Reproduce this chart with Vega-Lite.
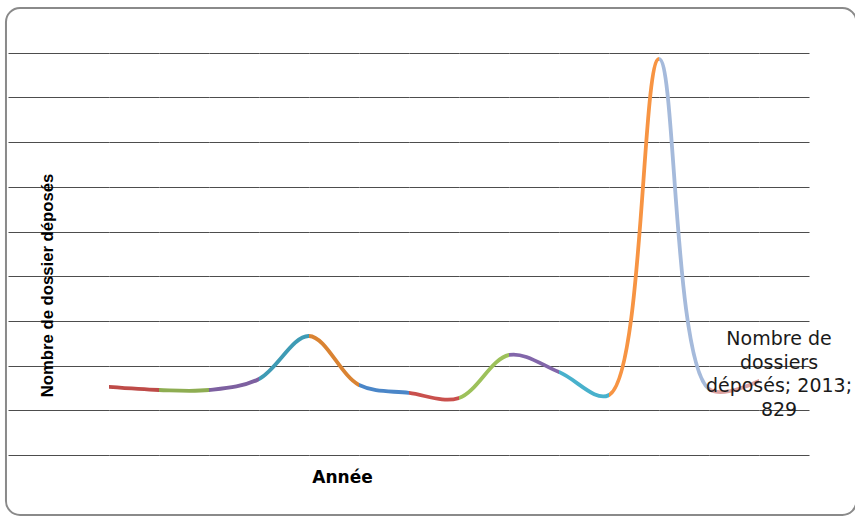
{
  "$schema": "https://vega.github.io/schema/vega-lite/v6.json",
  "padding": {"left": 4, "top": 7, "right": 0, "bottom": 0},
  "background": "white",
  "bounds": "flush",
  "spacing": 0,
  "data": {"values": [
    {"year": 2000, "value": 761},
    {"year": 2001, "value": 727},
    {"year": 2002, "value": 727},
    {"year": 2003, "value": 850},
    {"year": 2004, "value": 1331},
    {"year": 2005, "value": 783},
    {"year": 2006, "value": 694},
    {"year": 2007, "value": 638},
    {"year": 2008, "value": 1119},
    {"year": 2009, "value": 928},
    {"year": 2010, "value": 671},
    {"year": 2011, "value": 4430},
    {"year": 2012, "value": 738},
    {"year": 2013, "value": 829}
  ]},
  "config": {
    "view": {"stroke": null},
    "axis": {"labels": false, "ticks": false, "domain": false, "grid": true, "gridColor": "#4d4d4d", "gridWidth": 1, "gridOpacity": 1},
    "line": {"interpolate": "catmull-rom", "tension": 0.5, "strokeWidth": 3.8, "strokeCap": "round"}
  },
  "hconcat": [
    {
      "width": 101, "height": 447,
      "data": {"values": [{}]},
      "mark": {"type": "rect", "fill": "transparent", "stroke": "#8a8a8a", "strokeWidth": 2, "cornerRadius": 14},
      "encoding": {
        "x": {"datum": 1997.96, "type": "quantitative", "scale": {"domain": [1998, 2000], "nice": false, "zero": false},
              "axis": {"title": "Année", "grid": false, "titleX": 334, "titleY": 27, "titleBaseline": "alphabetic", "titleAlign": "center", "titleFont": "DejaVu Sans", "titleFontSize": 17, "titleFontWeight": "bold", "titleColor": "#000000"}},
        "x2": {"datum": 2014.8},
        "y": {"datum": -671, "type": "quantitative", "scale": {"domain": [0, 5000], "nice": false, "zero": false},
              "axis": {"title": "Nombre de dossier déposés", "values": [0, 500, 1000, 1500, 2000, 2500, 3000, 3500, 4000, 4500], "titleX": 44, "titleY": 277, "titleAngle": 270, "titleAlign": "center", "titleBaseline": "alphabetic", "titleFont": "Liberation Sans", "titleFontSize": 16.7, "titleFontWeight": "bold", "titleColor": "#000000"}},
        "y2": {"datum": 5000}
      }
    },
    {"width": 50, "height": 447, "transform": [{"filter": "datum.year >= 1999 && datum.year <= 2002"}],
     "mark": {"type": "line", "stroke": "#BE4B48", "clip": true},
     "encoding": {"x": {"field": "year", "type": "quantitative", "scale": {"domain": [2000, 2001], "nice": false, "zero": false}, "axis": null},
                  "y": {"field": "value", "type": "quantitative", "scale": {"domain": [0, 5000], "nice": false}, "axis": {"title": null, "values": [0, 500, 1000, 1500, 2000, 2500, 3000, 3500, 4000, 4500]}}}},
    {"width": 50, "height": 447, "transform": [{"filter": "datum.year >= 2000 && datum.year <= 2003"}],
     "mark": {"type": "line", "stroke": "#8EAD52", "clip": true},
     "encoding": {"x": {"field": "year", "type": "quantitative", "scale": {"domain": [2001, 2002], "nice": false, "zero": false}, "axis": null},
                  "y": {"field": "value", "type": "quantitative", "scale": {"domain": [0, 5000], "nice": false}, "axis": {"title": null, "values": [0, 500, 1000, 1500, 2000, 2500, 3000, 3500, 4000, 4500]}}}},
    {"width": 50, "height": 447, "transform": [{"filter": "datum.year >= 2001 && datum.year <= 2004"}],
     "mark": {"type": "line", "stroke": "#7D60A0", "clip": true},
     "encoding": {"x": {"field": "year", "type": "quantitative", "scale": {"domain": [2002, 2003], "nice": false, "zero": false}, "axis": null},
                  "y": {"field": "value", "type": "quantitative", "scale": {"domain": [0, 5000], "nice": false}, "axis": {"title": null, "values": [0, 500, 1000, 1500, 2000, 2500, 3000, 3500, 4000, 4500]}}}},
    {"width": 50, "height": 447, "transform": [{"filter": "datum.year >= 2002 && datum.year <= 2005"}],
     "mark": {"type": "line", "stroke": "#3E9BB5", "clip": true},
     "encoding": {"x": {"field": "year", "type": "quantitative", "scale": {"domain": [2003, 2004], "nice": false, "zero": false}, "axis": null},
                  "y": {"field": "value", "type": "quantitative", "scale": {"domain": [0, 5000], "nice": false}, "axis": {"title": null, "values": [0, 500, 1000, 1500, 2000, 2500, 3000, 3500, 4000, 4500]}}}},
    {"width": 50, "height": 447, "transform": [{"filter": "datum.year >= 2003 && datum.year <= 2006"}],
     "mark": {"type": "line", "stroke": "#DA8332", "clip": true},
     "encoding": {"x": {"field": "year", "type": "quantitative", "scale": {"domain": [2004, 2005], "nice": false, "zero": false}, "axis": null},
                  "y": {"field": "value", "type": "quantitative", "scale": {"domain": [0, 5000], "nice": false}, "axis": {"title": null, "values": [0, 500, 1000, 1500, 2000, 2500, 3000, 3500, 4000, 4500]}}}},
    {"width": 50, "height": 447, "transform": [{"filter": "datum.year >= 2004 && datum.year <= 2007"}],
     "mark": {"type": "line", "stroke": "#4A86C8", "clip": true},
     "encoding": {"x": {"field": "year", "type": "quantitative", "scale": {"domain": [2005, 2006], "nice": false, "zero": false}, "axis": null},
                  "y": {"field": "value", "type": "quantitative", "scale": {"domain": [0, 5000], "nice": false}, "axis": {"title": null, "values": [0, 500, 1000, 1500, 2000, 2500, 3000, 3500, 4000, 4500]}}}},
    {"width": 50, "height": 447, "transform": [{"filter": "datum.year >= 2005 && datum.year <= 2008"}],
     "mark": {"type": "line", "stroke": "#C9504D", "clip": true},
     "encoding": {"x": {"field": "year", "type": "quantitative", "scale": {"domain": [2006, 2007], "nice": false, "zero": false}, "axis": null},
                  "y": {"field": "value", "type": "quantitative", "scale": {"domain": [0, 5000], "nice": false}, "axis": {"title": null, "values": [0, 500, 1000, 1500, 2000, 2500, 3000, 3500, 4000, 4500]}}}},
    {"width": 50, "height": 447, "transform": [{"filter": "datum.year >= 2006 && datum.year <= 2009"}],
     "mark": {"type": "line", "stroke": "#9DC15B", "clip": true},
     "encoding": {"x": {"field": "year", "type": "quantitative", "scale": {"domain": [2007, 2008], "nice": false, "zero": false}, "axis": null},
                  "y": {"field": "value", "type": "quantitative", "scale": {"domain": [0, 5000], "nice": false}, "axis": {"title": null, "values": [0, 500, 1000, 1500, 2000, 2500, 3000, 3500, 4000, 4500]}}}},
    {"width": 50, "height": 447, "transform": [{"filter": "datum.year >= 2007 && datum.year <= 2010"}],
     "mark": {"type": "line", "stroke": "#8266AA", "clip": true},
     "encoding": {"x": {"field": "year", "type": "quantitative", "scale": {"domain": [2008, 2009], "nice": false, "zero": false}, "axis": null},
                  "y": {"field": "value", "type": "quantitative", "scale": {"domain": [0, 5000], "nice": false}, "axis": {"title": null, "values": [0, 500, 1000, 1500, 2000, 2500, 3000, 3500, 4000, 4500]}}}},
    {"width": 50, "height": 447, "transform": [{"filter": "datum.year >= 2008 && datum.year <= 2011"}],
     "mark": {"type": "line", "stroke": "#48B1CC", "clip": true},
     "encoding": {"x": {"field": "year", "type": "quantitative", "scale": {"domain": [2009, 2010], "nice": false, "zero": false}, "axis": null},
                  "y": {"field": "value", "type": "quantitative", "scale": {"domain": [0, 5000], "nice": false}, "axis": {"title": null, "values": [0, 500, 1000, 1500, 2000, 2500, 3000, 3500, 4000, 4500]}}}},
    {"width": 50, "height": 447, "transform": [{"filter": "datum.year >= 2009 && datum.year <= 2012"}],
     "mark": {"type": "line", "stroke": "#F79443", "clip": true},
     "encoding": {"x": {"field": "year", "type": "quantitative", "scale": {"domain": [2010, 2011], "nice": false, "zero": false}, "axis": null},
                  "y": {"field": "value", "type": "quantitative", "scale": {"domain": [0, 5000], "nice": false}, "axis": {"title": null, "values": [0, 500, 1000, 1500, 2000, 2500, 3000, 3500, 4000, 4500]}}}},
    {"width": 50, "height": 447, "transform": [{"filter": "datum.year >= 2010 && datum.year <= 2013"}],
     "mark": {"type": "line", "stroke": "#A5BADB", "clip": true},
     "encoding": {"x": {"field": "year", "type": "quantitative", "scale": {"domain": [2011, 2012], "nice": false, "zero": false}, "axis": null},
                  "y": {"field": "value", "type": "quantitative", "scale": {"domain": [0, 5000], "nice": false}, "axis": {"title": null, "values": [0, 500, 1000, 1500, 2000, 2500, 3000, 3500, 4000, 4500]}}}},
    {"width": 50, "height": 447, "transform": [{"filter": "datum.year >= 2011 && datum.year <= 2013"}],
     "mark": {"type": "line", "stroke": "#DBA1A0", "clip": true},
     "encoding": {"x": {"field": "year", "type": "quantitative", "scale": {"domain": [2012, 2013], "nice": false, "zero": false}, "axis": null},
                  "y": {"field": "value", "type": "quantitative", "scale": {"domain": [0, 5000], "nice": false}, "axis": {"title": null, "values": [0, 500, 1000, 1500, 2000, 2500, 3000, 3500, 4000, 4500]}}}},
    {"width": 50, "height": 447, "transform": [{"filter": "datum.year == 2013"}],
     "mark": {"type": "text", "dx": 20, "dy": -42, "align": "center", "baseline": "middle", "lineHeight": 23.7, "font": "DejaVu Sans", "fontSize": 19, "fill": "#1a1a1a"},
     "encoding": {"x": {"field": "year", "type": "quantitative", "scale": {"domain": [2013, 2014], "nice": false, "zero": false}, "axis": null},
                  "y": {"field": "value", "type": "quantitative", "scale": {"domain": [0, 5000], "nice": false}, "axis": {"title": null, "values": [0, 500, 1000, 1500, 2000, 2500, 3000, 3500, 4000, 4500]}},
                  "text": {"value": ["Nombre de", "dossiers", "déposés; 2013;", "829"]}}}
  ]
}
